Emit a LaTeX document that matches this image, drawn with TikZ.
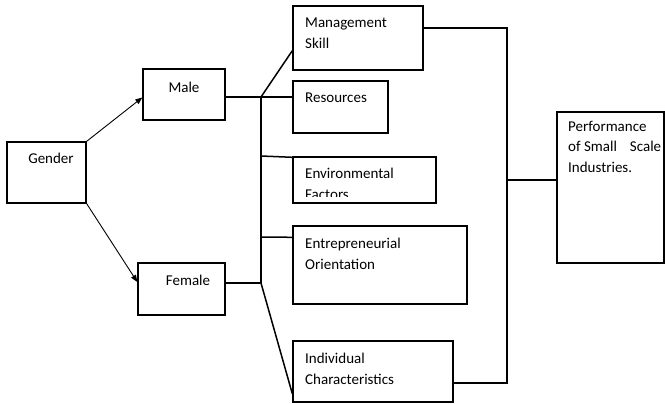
\documentclass[tikz,border=0pt]{standalone}
\usepackage{fontspec}
\setmainfont{Carlito}
\usetikzlibrary{arrows.meta}
\tikzset{
  box/.style={draw, line width=1.4pt, inner sep=0pt},
  txt/.style={inner sep=0pt, font=\fontsize{15}{21}\selectfont},
  ltxt/.style={txt, anchor=north west, align=left},
  conn/.style={line width=1.5pt},
  arr/.style={line width=0.9pt, -{Triangle[length=7pt,width=5.5pt]}}
}
\begin{document}
\begin{tikzpicture}[x=1pt,y=-1pt]
\useasboundingbox (0,0) rectangle (665,404);
% boxes
\node[box, minimum width=79pt, minimum height=61pt] (gender) at (46.5,172.5) {};
\node[box, minimum width=82pt, minimum height=51pt] (male) at (184,94.5) {};
\node[box, minimum width=87pt, minimum height=52pt] (female) at (181.5,289) {};
\node[box, minimum width=130pt, minimum height=64pt] (mgmt) at (358,38) {};
\node[box, minimum width=95pt, minimum height=52pt] (res) at (340.5,107) {};
\node[box, minimum width=143pt, minimum height=46pt] (env) at (364.5,180) {};
\node[box, minimum width=174pt, minimum height=78pt] (entre) at (380,265) {};
\node[box, minimum width=160pt, minimum height=61pt] (ind) at (373,371.5) {};
\node[box, minimum width=107pt, minimum height=151pt] (perf) at (610.5,187.5) {};
% texts
\node[txt] (tgender) at (51,158.5) {Gender};
\node[txt] (tmale) at (184,87) {Male};
\node[txt] (tfemale) at (188,280) {Female};
\node[ltxt] (tmgmt) at (305,17.5) {Management\\Skill};
\node[ltxt] (tres) at (305,92.5) {Resources};
\begin{scope}
  \clip ([yshift=7pt]env.south west) rectangle (env.north east);
  \node[ltxt] (tenv) at (305,167.5) {Environmental\\Factors};
\end{scope}
\node[ltxt] (tentre) at (305,237.5) {Entrepreneurial\\Orientation};
\node[ltxt] (tind) at (305,352.5) {Individual\\Characteristics};
\node[ltxt, font=\fontsize{15}{20.5}\selectfont] (tperf) at (568,121) {Performance\\of Small\hspace{13pt}Scale\\Industries.};
% junctions
\coordinate (j1) at (261,97);
\coordinate (j2) at (261,283);
\coordinate (je) at (261,156);
\coordinate (jn) at (261,237);
\coordinate (r1) at (507,28);
\coordinate (r2) at (507,383);
\coordinate (rm) at (507,180);
% arrows
\draw[arr] (gender.north east) -- ([yshift=-3pt]male.west);
\draw[arr] (gender.south east) -- ([yshift=7pt]female.west);
% left connectors
\draw[conn] (male.east |- j1) -- (j1);
\draw[conn] (female.east |- j2) -- (j2);
\draw[conn] (j1) -- (j2);
\draw[conn] (j1) -- ([yshift=20pt]mgmt.south west);
\draw[conn] (j1) -- (res.west |- j1);
\draw[conn] (je) -- ([yshift=-1pt]env.north west);
\draw[conn] (jn) -- ([yshift=-12pt]entre.north west);
\draw[conn] (j2) -- ([yshift=9pt]ind.south west);
% right connectors
\draw[conn] (mgmt.east |- r1) -- (r1) -- (r2) -- (ind.east |- r2);
\draw[conn] (rm) -- (perf.west |- rm);
\end{tikzpicture}
\end{document}
